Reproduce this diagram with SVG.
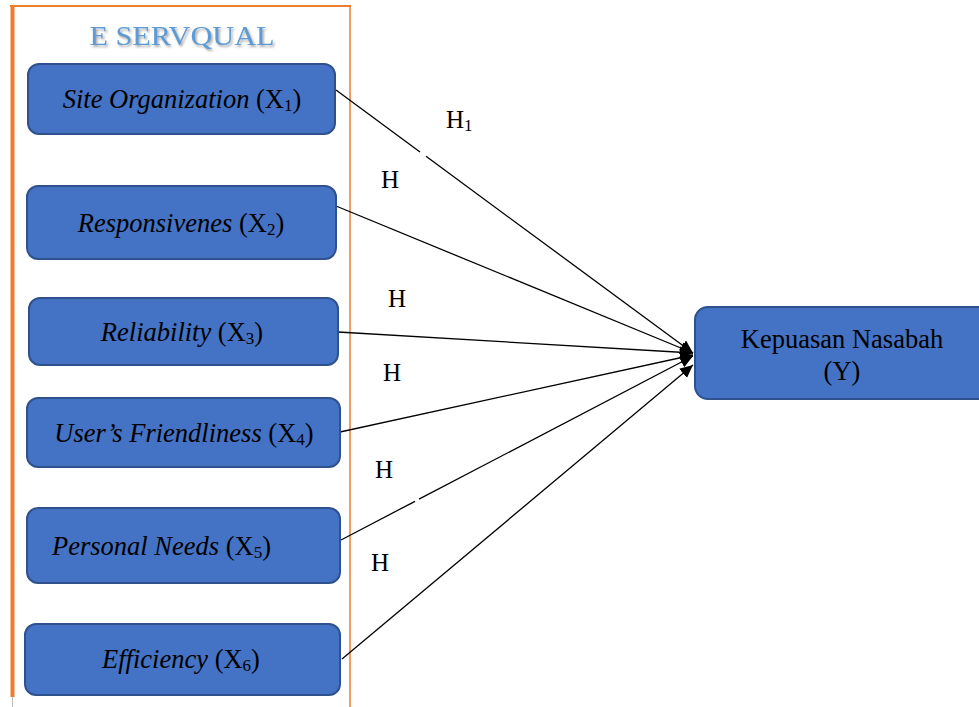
<svg xmlns="http://www.w3.org/2000/svg" width="979" height="707" viewBox="0 0 979 707">
  <defs>
    <style>
      .box { fill: #4472C4; stroke: #2F528F; stroke-width: 2; }
      .lbl { font-family: "Liberation Serif", "Times New Roman", serif; font-size: 26.5px; fill: #000; }
      .it { font-style: italic; }
      .sub { font-size: 17px; }
      .hyp { font-family: "Liberation Serif", "Times New Roman", serif; font-size: 25px; fill: #000; }
      .conn { stroke: #000; stroke-width: 1.3; fill: none; }
      .frame { stroke: #ED7D31; fill: none; }
    </style>
    <filter id="shadow" x="-10%" y="-30%" width="120%" height="160%">
      <feDropShadow dx="1.5" dy="2" stdDeviation="1" flood-color="#808080" flood-opacity="0.7"/>
    </filter>
    <marker id="arr" markerUnits="userSpaceOnUse" markerWidth="14" markerHeight="14" refX="13" refY="7" orient="auto">
      <path d="M0,1 L13,7 L0,13 Z" fill="#000"/>
    </marker>
  </defs>
  <rect width="979" height="707" fill="#fff"/>

  <g id="frame">
    <line class="frame" x1="10" y1="6" x2="351" y2="6" stroke-width="2"/>
    <line class="frame" x1="12.5" y1="5" x2="12.5" y2="697" stroke-width="4"/>
    <line x1="12.5" y1="697" x2="12.5" y2="707" stroke="#bbb" stroke-width="1"/>
    <line class="frame" x1="350" y1="5" x2="350" y2="707" stroke-width="1.5"/>
    <text x="182" y="45" text-anchor="middle" textLength="185" lengthAdjust="spacingAndGlyphs" font-family="Liberation Serif, Times New Roman, serif" font-size="27" fill="#5B9BD5" filter="url(#shadow)">E SERVQUAL</text>
  </g>

  <g id="connectors">
    <line class="conn" x1="336" y1="90" x2="420" y2="151.9"/>
    <line class="conn" x1="426" y1="156.3" x2="693" y2="353" marker-end="url(#arr)"/>
    <line class="conn" x1="336" y1="206" x2="693" y2="353" marker-end="url(#arr)"/>
    <line class="conn" x1="338" y1="332" x2="693" y2="353" marker-end="url(#arr)"/>
    <line class="conn" x1="340" y1="432" x2="693" y2="355" marker-end="url(#arr)"/>
    <line class="conn" x1="341" y1="540" x2="415" y2="501.3"/>
    <line class="conn" x1="419" y1="499.2" x2="693" y2="356" marker-end="url(#arr)"/>
    <line class="conn" x1="342" y1="659" x2="693" y2="365" marker-end="url(#arr)"/>
  </g>

  <g id="labels">
    <text class="hyp" x="446" y="128">H<tspan class="sub" dy="3">1</tspan></text>
    <text class="hyp" x="381" y="188">H</text>
    <text class="hyp" x="388" y="307">H</text>
    <text class="hyp" x="383" y="381">H</text>
    <text class="hyp" x="375" y="478">H</text>
    <text class="hyp" x="371" y="571">H</text>
  </g>

  <g id="x1">
    <rect class="box" x="28" y="64" width="307" height="70" rx="11"/>
    <text class="lbl" x="182" y="108" text-anchor="middle"><tspan class="it">Site Organization</tspan> (X<tspan class="sub" dy="3">1</tspan><tspan dy="-3">)</tspan></text>
  </g>
  <g id="x2">
    <rect class="box" x="27" y="186" width="309" height="73" rx="11"/>
    <text class="lbl" x="181" y="232" text-anchor="middle"><tspan class="it">Responsivenes</tspan> (X<tspan class="sub" dy="3">2</tspan><tspan dy="-3">)</tspan></text>
  </g>
  <g id="x3">
    <rect class="box" x="29" y="298" width="309" height="67" rx="11"/>
    <text class="lbl" x="182" y="341" text-anchor="middle"><tspan class="it">Reliability</tspan> (X<tspan class="sub" dy="3">3</tspan><tspan dy="-3">)</tspan></text>
  </g>
  <g id="x4">
    <rect class="box" x="27" y="398" width="313" height="69" rx="11"/>
    <text class="lbl" x="184" y="442" text-anchor="middle"><tspan class="it">User’s Friendliness</tspan> (X<tspan class="sub" dy="3">4</tspan><tspan dy="-3">)</tspan></text>
  </g>
  <g id="x5">
    <rect class="box" x="27" y="508" width="313" height="75" rx="11"/>
    <text class="lbl" x="52" y="555"><tspan class="it">Personal Needs</tspan> (X<tspan class="sub" dy="3">5</tspan><tspan dy="-3">)</tspan></text>
  </g>
  <g id="x6">
    <rect class="box" x="25" y="624" width="315" height="71" rx="11"/>
    <text class="lbl" x="181" y="668" text-anchor="middle"><tspan class="it">Efficiency</tspan> (X<tspan class="sub" dy="3">6</tspan><tspan dy="-3">)</tspan></text>
  </g>
  <g id="y">
    <rect class="box" x="695" y="307" width="300" height="92" rx="13"/>
    <text class="lbl" x="842" y="348" text-anchor="middle">Kepuasan Nasabah</text>
    <text class="lbl" x="842" y="380" text-anchor="middle">(Y)</text>
  </g>
</svg>
